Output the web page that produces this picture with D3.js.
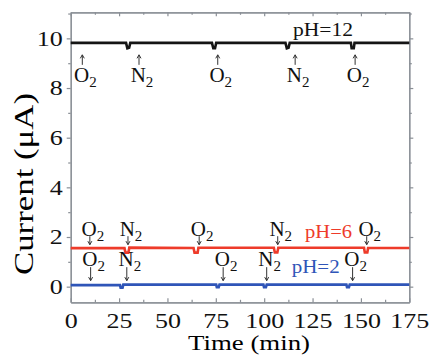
<!DOCTYPE html>
<html lang="en">
<head>
    <meta charset="UTF-8">
    <title>Current vs time</title>
    <script src="https://cdn.jsdelivr.net/npm/d3@7"></script>
    <style>
        body { margin: 0; background: #fff; }
    </style>
</head>
<body>
<svg width="429" height="363" font-family="Liberation Serif"></svg>

<script>

    // series as [time (min), current (uA)]
    var ph12 = [[0, 9.82], [28.6, 9.82], [29.3, 9.6], [30.2, 9.62], [30.8, 9.82],
        [73, 9.82], [73.7, 9.6], [74.6, 9.6], [75.2, 9.82],
        [111, 9.82], [111.7, 9.6], [112.6, 9.62], [113.2, 9.82],
        [144.8, 9.82], [145.2, 9.6], [146.3, 9.6], [146.7, 9.82], [175, 9.82]];
    var ph6 = [[0, 1.55], [27.8, 1.55], [28.3, 1.37], [29.8, 1.37], [30.3, 1.57],
        [63.5, 1.56], [64, 1.37], [65.6, 1.37], [66, 1.57],
        [105, 1.57], [105.5, 1.38], [106.8, 1.38], [107.3, 1.57],
        [151.6, 1.57], [152, 1.38], [153.3, 1.38], [153.7, 1.56], [175, 1.56]];
    var ph2 = [[0, 0.06], [25.5, 0.06], [25.8, -0.04], [26.8, -0.04], [27.2, 0.08],
        [75.2, 0.08], [75.5, -0.02], [76.5, -0.02], [76.9, 0.08],
        [99.6, 0.08], [99.9, -0.02], [100.9, -0.02], [101.3, 0.08],
        [142.5, 0.08], [142.8, -0.02], [143.8, -0.02], [144.2, 0.08], [175, 0.08]];

    // gas switching marks: time and gas
    var ph12Marks = [[6, "O"], [35.3, "N"], [76, "O"], [116, "N"], [147, "O"]];
    var ph6Marks = [[9.9, "O"], [29.6, "N"], [66.4, "O"], [107, "N"], [153, "O"]];
    var ph2Marks = [[10.3, "O"], [29, "N"], [78.8, "O"], [101.3, "N"], [145.7, "O"]];

    var xTicks = [0, 25, 50, 75, 100, 125, 150, 175];
    var xMinor = [12.5, 37.5, 62.5, 87.5, 112.5, 137.5, 162.5];
    var yTicks = [0, 2, 4, 6, 8, 10];
    var yMinor = [1, 3, 5, 7, 9, 11];

    var svg = d3.select("svg");
    var axisColor = "#8a8f96";
    var serif = "Liberation Serif";

    var x = d3.scaleLinear().domain([0, 175]).range([70.7, 409.3]);
    var y = d3.scaleLinear().domain([-0.63, 11.05]).range([302.3, 12.3]);

    function styleAxis(g, fontSize) {
        g.attr("font-family", serif).attr("font-size", fontSize);
        g.select(".domain").attr("stroke", axisColor).attr("stroke-width", 1.2);
        g.selectAll(".tick line").attr("stroke", axisColor).attr("stroke-width", 1.2);
        // the original labels are drawn a bit wide
        g.selectAll(".tick text").attr("fill", "#111")
            .attr("textLength", function () { return this.textContent.length * 13; })
            .attr("lengthAdjust", "spacingAndGlyphs");
    }

    /* axes: bottom/top ticks point in, left/right ticks point out */
    svg.append("g").attr("transform", "translate(0," + y.range()[0] + ")")
        .call(d3.axisBottom(x).tickValues(xTicks).tickSize(-4).tickSizeOuter(0).tickPadding(11))
        .call(styleAxis, 21);
    svg.append("g").attr("transform", "translate(0," + y.range()[0] + ")")
        .call(d3.axisBottom(x).tickValues(xMinor).tickSize(-2.5).tickSizeOuter(0).tickFormat(""))
        .call(styleAxis, 21);
    svg.append("g").attr("transform", "translate(0," + y.range()[1] + ")")
        .call(d3.axisTop(x).tickValues(xTicks).tickSize(-4).tickSizeOuter(0).tickFormat(""))
        .call(styleAxis, 21);
    svg.append("g").attr("transform", "translate(0," + y.range()[1] + ")")
        .call(d3.axisTop(x).tickValues(xMinor).tickSize(-2.5).tickSizeOuter(0).tickFormat(""))
        .call(styleAxis, 21);

    svg.append("g").attr("transform", "translate(" + x.range()[0] + ",0)")
        .call(d3.axisLeft(y).tickValues(yTicks).tickSize(4).tickSizeOuter(0).tickPadding(4))
        .call(styleAxis, 21);
    svg.append("g").attr("transform", "translate(" + x.range()[0] + ",0)")
        .call(d3.axisLeft(y).tickValues(yMinor).tickSize(2.5).tickSizeOuter(0).tickFormat(""))
        .call(styleAxis, 21);
    svg.append("g").attr("transform", "translate(" + x.range()[1] + ",0)")
        .call(d3.axisRight(y).tickValues(yTicks).tickSize(4).tickSizeOuter(0).tickFormat(""))
        .call(styleAxis, 21);
    svg.append("g").attr("transform", "translate(" + x.range()[1] + ",0)")
        .call(d3.axisRight(y).tickValues(yMinor).tickSize(2.5).tickSizeOuter(0).tickFormat(""))
        .call(styleAxis, 21);

    // axis titles
    svg.append("text")
        .attr("x", 249).attr("y", 350)
        .attr("text-anchor", "middle")
        .attr("font-size", 21)
        .attr("textLength", 122).attr("lengthAdjust", "spacingAndGlyphs")
        .text("Time (min)");
    svg.append("text")
        .attr("transform", "translate(33,184) rotate(-90)")
        .attr("text-anchor", "middle")
        .attr("font-size", 27)
        .attr("textLength", 182).attr("lengthAdjust", "spacingAndGlyphs")
        .text("Current (\u03bcA)");

    /* data lines */
    var line = d3.line()
        .x(function (d) { return x(d[0]); })
        .y(function (d) { return y(d[1]); });

    var series = [
        {data: ph12, color: "#151515"},
        {data: ph6, color: "#ee3b2a"},
        {data: ph2, color: "#2f55b8"}
    ];
    svg.append("g").selectAll("path")
        .data(series)
        .enter().append("path")
        .attr("d", function (d) { return line(d.data); })
        .attr("fill", "none")
        .attr("stroke", function (d) { return d.color; })
        .attr("stroke-width", 2.6);

    /* gas marks: arrow + O2 / N2 label */
    function drawMarks(marks, base, up, tipOff, tailOff, labelOff) {
        var g = svg.append("g");
        marks.forEach(function (m) {
            var px = x(m[0]);
            var tip = y(base) + tipOff, tail = y(base) + tailOff;
            var dir = up ? 1 : -1;
            g.append("path")
                .attr("d", "M" + px + "," + tail + "L" + px + "," + tip +
                    "M" + (px - 2) + "," + (tip + 3.5 * dir) + "L" + px + "," + tip +
                    "L" + (px + 2) + "," + (tip + 3.5 * dir))
                .attr("fill", "none")
                .attr("stroke", "#333")
                .attr("stroke-width", 1);
            var t = g.append("text")
                .attr("x", px + 3).attr("y", y(base) + labelOff)
                .attr("text-anchor", "middle")
                .attr("fill", "#111")
                .attr("font-size", 21);
            t.append("tspan").text(m[1]);
            t.append("tspan").attr("dy", 5).attr("font-size", 15).text("2");
        });
    }
    drawMarks(ph12Marks, 9.82, true, 12, 22, 39);
    drawMarks(ph6Marks, 1.55, false, -3.5, -12, -12);
    drawMarks(ph2Marks, 0.06, false, -4.5, -18, -19.5);

    // pH labels
    var phLabels = [
        {text: "pH=12", x: 293, w: 60, base: 9.82, off: -6.5, color: "#111"},
        {text: "pH=6", x: 305, w: 47, base: 1.55, off: -10, color: "#ee3b2a"},
        {text: "pH=2", x: 291.7, w: 48, base: 0.06, off: -12, color: "#2f55b8"}
    ];
    svg.append("g").selectAll("text")
        .data(phLabels)
        .enter().append("text")
        .attr("x", function (d) { return d.x; })
        .attr("y", function (d) { return y(d.base) + d.off; })
        .attr("fill", function (d) { return d.color; })
        .attr("font-size", 19)
        .attr("textLength", function (d) { return d.w; })
        .attr("lengthAdjust", "spacingAndGlyphs")
        .text(function (d) { return d.text; });

</script>

</body>
</html>
